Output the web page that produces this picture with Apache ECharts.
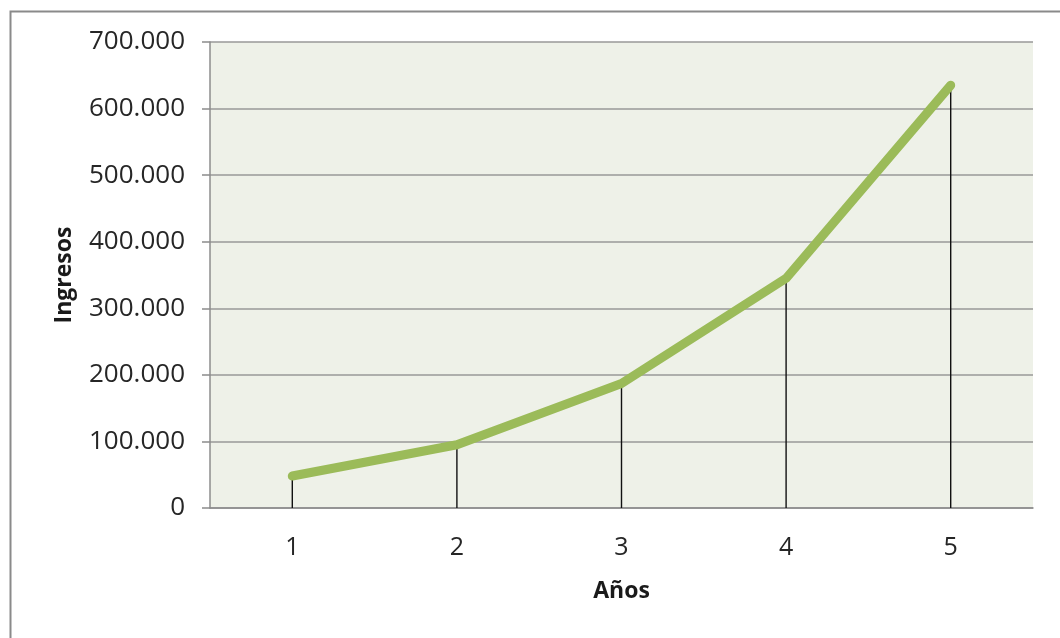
<!DOCTYPE html>
<html>
<head>
<meta charset="utf-8">
<title>Ingresos por año</title>
<script src="https://cdn.jsdelivr.net/npm/echarts@6/dist/echarts.min.js"></script>
<style>
  html, body { margin: 0; padding: 0; background: #ffffff; }
  #chart { width: 1060px; height: 638px; }
</style>
</head>
<body>
<div id="chart"></div>
<script>
// Años del horizonte y los ingresos de cada año
const years = ['1', '2', '3', '4', '5'];
const ingresos = [48000, 95000, 187000, 345000, 635000];

// Escala del eje vertical
const yMin = 0;
const yMax = 700000;
const yStep = 100000;

const fontFamily = '"Open Sans", "Noto Sans", sans-serif';

// Separador de miles con punto: 100000 -> "100.000"
function miles(v) {
  return String(Math.round(v)).replace(/\B(?=(\d{3})+(?!\d))/g, '.');
}

const chart = echarts.init(document.getElementById('chart'), null, { renderer: 'canvas' });

chart.setOption({
  backgroundColor: '#ffffff',
  animation: false,
  graphic: [{
    type: 'rect',
    left: 8,
    top: 9,
    shape: { width: 1200, height: 800 },
    style: { fill: 'none', stroke: '#8a8a8a', lineWidth: 2 },
    silent: true,
    z: 100
  }],
  grid: {
    left: 210,
    top: 42,
    right: 27,
    bottom: 130,
    show: true,
    backgroundColor: '#eef1e8',
    borderWidth: 0
  },
  xAxis: {
    type: 'category',
    data: years,
    boundaryGap: true,
    name: 'Años',
    nameLocation: 'middle',
    nameGap: 72,
    nameTextStyle: { fontFamily, fontSize: 23, fontWeight: 'bold', color: '#1a1a1a' },
    axisLine: { lineStyle: { color: '#8c8c8c', width: 1.5 } },
    axisTick: { show: false },
    axisLabel: { fontFamily, fontSize: 25, color: '#262626', margin: 27 },
    splitLine: { show: false }
  },
  yAxis: {
    type: 'value',
    min: yMin,
    max: yMax,
    interval: yStep,
    name: 'Ingresos',
    nameLocation: 'middle',
    nameRotate: 90,
    nameGap: 134,
    nameTextStyle: { fontFamily, fontSize: 23, fontWeight: 'bold', color: '#1a1a1a' },
    axisLine: { show: true, lineStyle: { color: '#8c8c8c', width: 1.5 } },
    axisTick: { show: true, inside: false, length: 8, lineStyle: { color: '#8c8c8c', width: 1.5 } },
    axisLabel: { fontFamily, fontSize: 26, color: '#262626', margin: 25, formatter: miles },
    splitLine: { show: true, lineStyle: { color: '#999999', width: 1.5 } }
  },
  series: [
    {
      // Líneas de caída desde cada punto hasta el eje
      type: 'bar',
      data: ingresos,
      barWidth: 1.4,
      itemStyle: { color: '#111111' },
      silent: true,
      z: 2
    },
    {
      type: 'line',
      data: ingresos,
      symbol: 'none',
      lineStyle: { color: '#9bbb59', width: 9, cap: 'round', join: 'round' },
      silent: true,
      z: 3
    }
  ]
});
</script>
</body>
</html>
